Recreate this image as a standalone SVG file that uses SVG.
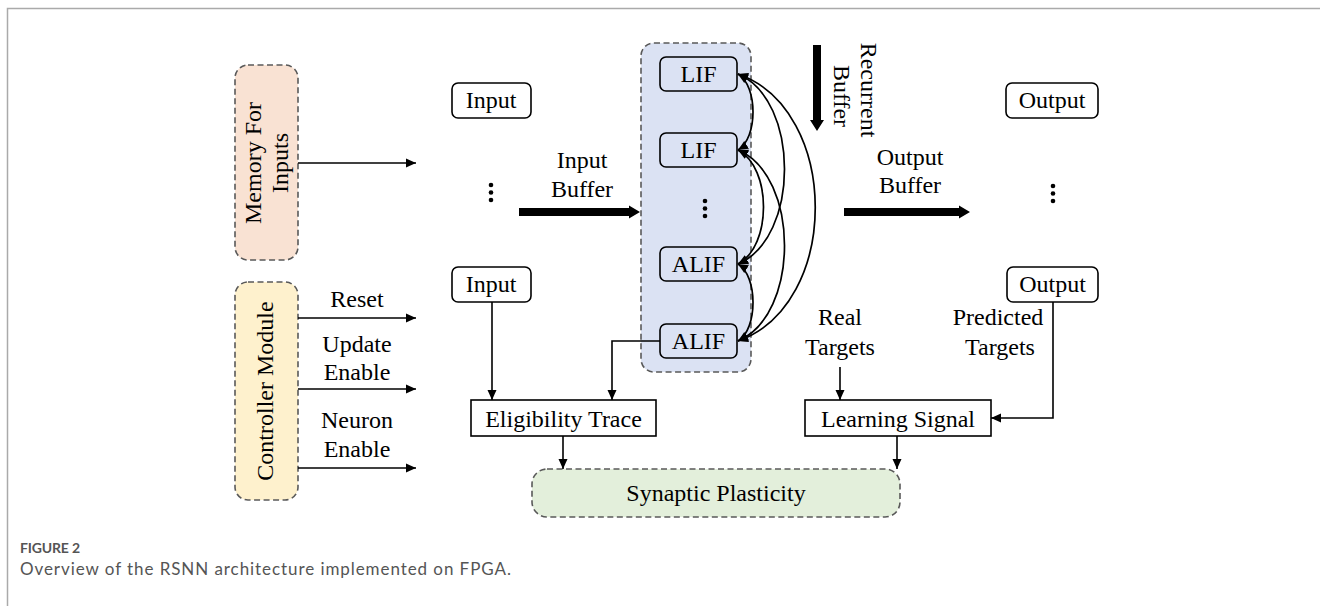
<svg xmlns="http://www.w3.org/2000/svg" width="1320" height="606" viewBox="0 0 1320 606">
<defs>
<style>
.t{font-family:"Liberation Serif","Times New Roman",serif;font-size:24px;fill:#000;text-anchor:middle}
.dash{stroke:#595959;stroke-width:1.6;stroke-dasharray:6 3.5}
.box{fill:#fff;stroke:#000;stroke-width:1.6}
.ln{fill:none;stroke:#000;stroke-width:1.6}
.cv{fill:none;stroke:#000;stroke-width:1.7}
.cap{font-family:Lato,"Liberation Sans",sans-serif;fill:#555}
</style>
<marker id="ah" viewBox="0 0 10 10" refX="10" refY="5" markerWidth="10" markerHeight="10" markerUnits="userSpaceOnUse" orient="auto-start-reverse">
<path d="M0,0.5 L10,5 L0,9.5 Z" fill="#000"/>
</marker>
</defs>
<rect width="1320" height="606" fill="#fff"/>
<path d="M7.5,606 L7.5,8.5 L1320,8.5" fill="none" stroke="#aaa" stroke-width="1.5"/>

<g id="memory">
<rect x="235" y="65" width="63" height="195" rx="13" fill="#f9e2d3" class="dash"/>
<text class="t" transform="translate(261,163) rotate(-90)">Memory For</text>
<text class="t" transform="translate(288,163) rotate(-90)">Inputs</text>
</g>
<g id="controller">
<rect x="235" y="282" width="63" height="218" rx="13" fill="#fef1cd" class="dash"/>
<text class="t" transform="translate(273,391) rotate(-90)">Controller Module</text>
</g>
<g id="input1">
<rect x="452" y="83" width="79" height="35" rx="6" class="box"/>
<text class="t" x="491" y="108">Input</text>
</g>
<g id="inputdots" fill="#000">
<circle cx="491" cy="185" r="2.3"/><circle cx="491" cy="192.5" r="2.3"/><circle cx="491" cy="200" r="2.3"/>
</g>
<g id="input2">
<rect x="452" y="267" width="79" height="35" rx="6" class="box"/>
<text class="t" x="491" y="292">Input</text>
</g>
<g id="inputbuffer">
<text class="t" x="582" y="168">Input</text>
<text class="t" x="582" y="197">Buffer</text>
</g>
<g id="rsnn">
<rect x="641" y="43" width="110" height="329" rx="13" fill="#dbe2f3" class="dash"/>
</g>
<g id="lif1"><rect x="660" y="57" width="77" height="34" rx="6" fill="#dbe2f3" stroke="#000" stroke-width="1.6"/><text class="t" x="698.5" y="82">LIF</text></g>
<g id="lif2"><rect x="660" y="133" width="77" height="34" rx="6" fill="#dbe2f3" stroke="#000" stroke-width="1.6"/><text class="t" x="698.5" y="158">LIF</text></g>
<g id="neurondots" fill="#000">
<circle cx="705" cy="201" r="2.3"/><circle cx="705" cy="208.5" r="2.3"/><circle cx="705" cy="216" r="2.3"/>
</g>
<g id="alif1"><rect x="660" y="247" width="77" height="34" rx="6" fill="#dbe2f3" stroke="#000" stroke-width="1.6"/><text class="t" x="698.5" y="272">ALIF</text></g>
<g id="alif2"><rect x="660" y="324" width="77" height="34" rx="6" fill="#dbe2f3" stroke="#000" stroke-width="1.6"/><text class="t" x="698.5" y="349">ALIF</text></g>
<g id="recurrentbuffer">
<text class="t" transform="translate(861,90) rotate(90)">Recurrent</text>
<text class="t" transform="translate(834,96) rotate(90)">Buffer</text>
</g>
<g id="outputbuffer">
<text class="t" x="910" y="165">Output</text>
<text class="t" x="910" y="193">Buffer</text>
</g>
<g id="output1">
<rect x="1006" y="83" width="92" height="35" rx="6" class="box"/>
<text class="t" x="1052" y="108">Output</text>
</g>
<g id="outputdots" fill="#000">
<circle cx="1053" cy="186" r="2.3"/><circle cx="1053" cy="193.5" r="2.3"/><circle cx="1053" cy="201" r="2.3"/>
</g>
<g id="output2">
<rect x="1007" y="267" width="91" height="35" rx="6" class="box"/>
<text class="t" x="1052.5" y="292">Output</text>
</g>
<g id="labels">
<text class="t" x="357" y="307">Reset</text>
<text class="t" x="357" y="352">Update</text>
<text class="t" x="357" y="380">Enable</text>
<text class="t" x="357" y="428">Neuron</text>
<text class="t" x="357" y="457">Enable</text>
<text class="t" x="840" y="325">Real</text>
<text class="t" x="840" y="355">Targets</text>
<text class="t" x="998" y="325">Predicted</text>
<text class="t" x="1000" y="355">Targets</text>
</g>
<g id="eligibility">
<rect x="471" y="400" width="185" height="36" class="box"/>
<text class="t" x="563.5" y="427">Eligibility Trace</text>
</g>
<g id="learning">
<rect x="805" y="400" width="186" height="36" class="box"/>
<text class="t" x="898" y="427">Learning Signal</text>
</g>
<g id="synaptic">
<rect x="532" y="469" width="368" height="48" rx="15" fill="#e3efdb" class="dash"/>
<text class="t" x="716" y="501">Synaptic Plasticity</text>
</g>

<g id="connectors">
<line x1="298" y1="163" x2="416" y2="163" class="ln" marker-end="url(#ah)"/>
<line x1="298" y1="318" x2="416" y2="318" class="ln" marker-end="url(#ah)"/>
<line x1="298" y1="389" x2="416" y2="389" class="ln" marker-end="url(#ah)"/>
<line x1="298" y1="468" x2="416" y2="468" class="ln" marker-end="url(#ah)"/>
<line x1="492" y1="302" x2="492" y2="400" class="ln" marker-end="url(#ah)"/>
<path d="M660,341 L612,341 L612,400" class="ln" marker-end="url(#ah)"/>
<line x1="563" y1="436" x2="563" y2="469" class="ln" marker-end="url(#ah)"/>
<line x1="840" y1="367" x2="840" y2="400" class="ln" marker-end="url(#ah)"/>
<path d="M1053,302 L1053,418 L991,418" class="ln" marker-end="url(#ah)"/>
<line x1="897" y1="436" x2="897" y2="469" class="ln" marker-end="url(#ah)"/>
<polygon points="519,208 629,208 629,205.5 640,212 629,218.5 629,216 519,216" fill="#000"/>
<polygon points="844,208 959,208 959,205.5 970,212 959,218.5 959,216 844,216" fill="#000"/>
<polygon points="813,45 821,45 821,120 824,120 817,131 810,120 813,120" fill="#000"/>
<path d="M738,74 C758,86 758,138 738,150" class="cv" marker-start="url(#ah)" marker-end="url(#ah)"/>
<path d="M738,264 C758,276 758,329 738,341" class="cv" marker-start="url(#ah)" marker-end="url(#ah)"/>
<path d="M738,150 C772,168 772,246 738,264" class="cv" marker-start="url(#ah)" marker-end="url(#ah)"/>
<path d="M738,74 C800,100 800,238 738,264" class="cv" marker-start="url(#ah)" marker-end="url(#ah)"/>
<path d="M738,150 C800,176 800,315 738,341" class="cv" marker-start="url(#ah)" marker-end="url(#ah)"/>
<path d="M738,74 C841,110 841,305 738,341" class="cv" marker-start="url(#ah)" marker-end="url(#ah)"/>
</g>

<g id="caption">
<text class="cap" x="20" y="553" font-size="14" font-weight="bold" textLength="60">FIGURE 2</text>
<text class="cap" x="20" y="575" font-size="17" textLength="491">Overview of the RSNN architecture implemented on FPGA.</text>
</g>
</svg>
